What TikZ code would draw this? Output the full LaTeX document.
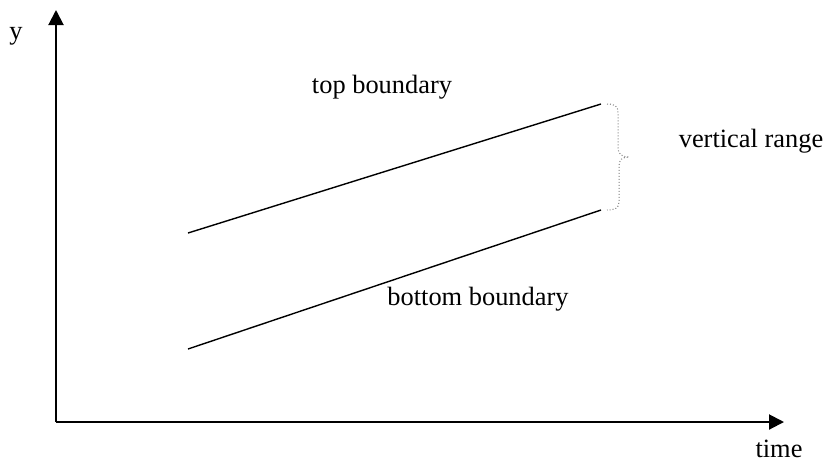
\documentclass[tikz,border=0pt]{standalone}
\usepackage{fontspec}
\setmainfont{Liberation Serif}
\usetikzlibrary{arrows.meta}
\begin{document}
\begin{tikzpicture}[x=0.5pt,y=-0.5pt,
  axis/.style={line width=1pt,-{Triangle[length=7.5pt,width=7.5pt]}},
  bound/.style={line width=0.7pt},
  lbl/.style={font=\fontsize{13.2}{15}\selectfont,inner sep=0pt,anchor=base},
  bracestyle/.style={line width=0.5pt,gray,densely dotted}]
\useasboundingbox (0,0) rectangle (824,463);
\coordinate (O) at (56,422);
\coordinate (Ytip) at (56,10);
\coordinate (Xtip) at (784,422);
\draw[axis] (O) -- (Ytip);
\draw[axis] (O) -- (Xtip);
\node[lbl] (ylab) at (16,39) {y};
\node[lbl] (tlab) at (779,457) {time};
\node[lbl] (toplab) at (382,93) {top boundary};
\node[lbl] (botlab) at (478,305) {bottom boundary};
\node[lbl] (vrlab) at (751,147) {vertical range};
\coordinate (t1) at (188,233);
\coordinate (t2) at (601,104);
\coordinate (b1) at (188,349);
\coordinate (b2) at (601,210);
\draw[bound] (t1) -- (t2);
\draw[bound] (b1) -- (b2);
\coordinate (bs) at (607,104);
\coordinate (be) at (607,210);
\draw[bracestyle] (bs) .. controls (615,104) and (618,106) .. (618,113) -- (618,148)
  .. controls (618,154) and (622,157) .. (629,157)
  .. controls (622,157) and (619,160) .. (619,166) -- (619,202)
  .. controls (619,208) and (615,210) .. (be);
\end{tikzpicture}
\end{document}
